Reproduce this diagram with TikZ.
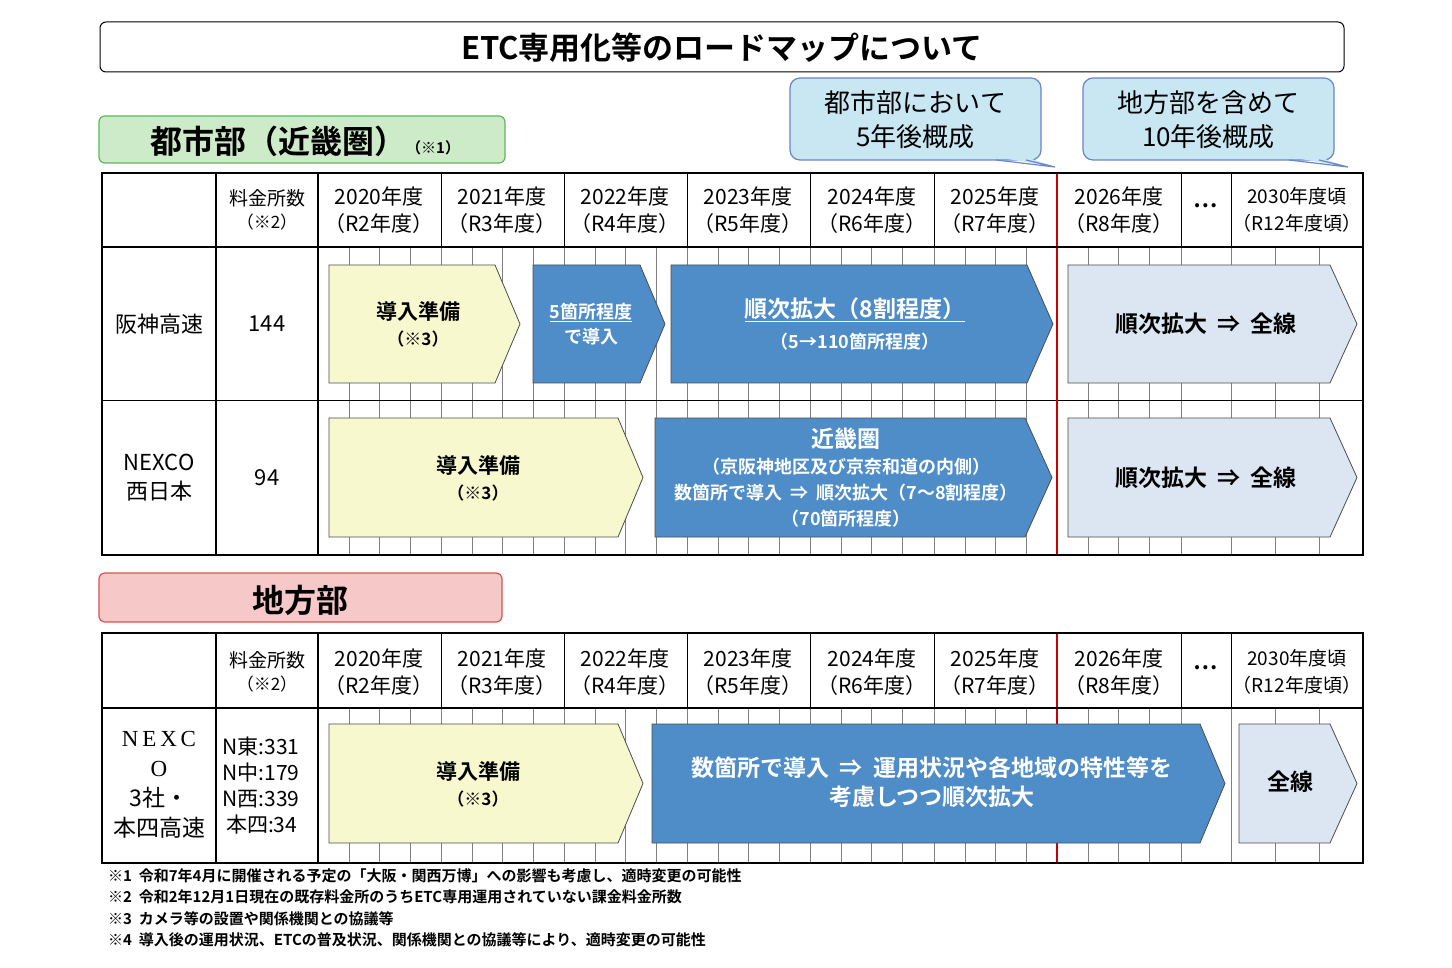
\documentclass[tikz,border=0pt]{standalone}
\usepackage{fontspec}
\setmainfont{Noto Sans CJK JP}
\newfontfamily\jpb{Noto Sans CJK JP Bold}
\usetikzlibrary{calc}
\definecolor{bluea}{HTML}{4F8DC8}
\definecolor{lighta}{HTML}{DCE6F2}
\definecolor{yel}{HTML}{F8F8CE}
\definecolor{callf}{HTML}{C9E6F3}
\definecolor{calld}{HTML}{6A86C6}
\definecolor{grnf}{HTML}{CDEBC8}
\definecolor{grnd}{HTML}{5CB85C}
\definecolor{pnkf}{HTML}{F6C8C8}
\definecolor{pnkd}{HTML}{D9534F}
\tikzset{
 thick2/.style={line width=2.5pt},
 thinl/.style={line width=0.5pt,gray},
 arr/.style={draw=black!70,line width=0.8pt},
 hdr/.style={align=center,font=\fontsize{19}{23}\selectfont,inner sep=0},
 atxt/.style={align=center,inner sep=0,font=\jpb\fontsize{21}{26}\selectfont},
}
\newcommand{\arrowshape}[6]{% x1 x2 tipbody y1 y2 style
 \path[#6] (#1,#4) -- (#3,#4) -- (#2,{(#4+#5)/2}) -- (#3,#5) -- (#1,#5) -- cycle;}
\begin{document}
\begin{tikzpicture}[x=1pt,y=-1pt]
\useasboundingbox (0,0) rectangle (1452,968);
\fill[white] (0,0) rectangle (1452,968);
% title
\draw[line width=1pt,rounded corners=6pt] (100,22) rectangle (1344,72);
\node[font=\jpb\fontsize{31}{34}\selectfont] (title) at (722,48) {ETC専用化等のロードマップについて};
% callouts
\foreach \xa/\xb/\txt in {790/1041/{都市部において\\5年後概成},1083/1334/{地方部を含めて\\10年後概成}}{
 \draw[calld,fill=callf,line width=1.2pt,rounded corners=10pt] (\xa,78) -- (\xb,78) -- (\xb,160) -- (\xa,160) -- cycle;
 \fill[callf] (\xb-45,157) -- (\xb+14,167) -- (\xb-15,157) -- cycle;
 \draw[calld,line width=1.2pt] (\xb-45,160) -- (\xb+14,167) -- (\xb-15,160);
 \node[align=center,font=\fontsize{26}{34}\selectfont] at ({(\xa+\xb)/2},120) {\txt};
}
% green label
\draw[grnd,fill=grnf,line width=1.2pt,rounded corners=6pt] (99,116) rectangle (505,163);
\node[anchor=west,inner sep=0] (lab1) at (150,141) {\jpb\fontsize{32}{34}\selectfont 都市部（近畿圏）\fontsize{15}{18}\selectfont（※1）};
% pink label
\draw[pnkd,fill=pnkf,line width=1.2pt,rounded corners=6pt] (99,573) rectangle (502,622);
\node[font=\jpb\fontsize{32}{34}\selectfont] (lab2) at (300,600) {地方部};
% quarter lines
\foreach \ya/\yb in {247/555,708/863}{
 \foreach \c in {318,441,564,687,810,934,1057}{
  \foreach \q in {1,2,3}{\draw[thinl] ({\c+\q*30.8},\ya) -- ({\c+\q*30.8},\yb);}}
 \foreach \q in {1,2}{\draw[thinl] ({1231+\q*44},\ya) -- ({1231+\q*44},\yb);}
}
% tables grid
\foreach \ya/\yh/\yb in {173/247/555,633/708/863}{
 \foreach \c in {441,564,687,810,934,1181,1231}{\draw[line width=1pt] (\c,\ya) -- (\c,\yh);}
 \foreach \c in {441,564,687,810,934,1181,1231}{\draw[line width=0.8pt,gray] (\c,\yh) -- (\c,\yb);}
}
\draw[line width=1pt] (102,401) -- (1363,401);
% red lines
\draw[red!80!black,line width=1.5pt] (1057,173) -- (1057,555);
\draw[red!80!black,line width=1.5pt] (1057,633) -- (1057,863);
% headers
\node[hdr] at (267,210) {料金所数\\{\fontsize{17}{22}\selectfont（※2）}};
\node[hdr] at (267,672) {料金所数\\{\fontsize{17}{22}\selectfont（※2）}};
\foreach \ya in {210,672}{
\foreach \c/\y/\r in {379/2020/2,502/2021/3,625/2022/4,748/2023/5,872/2024/6,995/2025/7,1119/2026/8}{
 \node[hdr,font=\fontsize{21}{27}\selectfont] at (\c,\ya) {\y 年度\\（R\r 年度）};}
\node[hdr,font=\fontsize{19}{27}\selectfont] at (1297,\ya) {2030年度頃\\（R12年度頃）};
\node[font=\jpb\fontsize{22}{22}\selectfont] at (1206,\ya-4) {…};
}
\node[font=\fontsize{22}{26}\selectfont] at (159,324) {阪神高速};
\node[font=\fontsize{22}{26}\selectfont] at (267,324) {144};
\node[align=center,font=\fontsize{22}{29}\selectfont] at (159,478) {NEXCO\\西日本};
\node[font=\fontsize{22}{26}\selectfont] at (267,478) {94};
\node[align=center,font=\fontsize{23}{30}\selectfont] at (159,785) {\fontspec{Liberation Serif}N\,E\,X\,C\\\fontspec{Liberation Serif}O\\3社・\\本四高速};
\node[align=left,anchor=west,font=\fontsize{21}{26}\selectfont] at (219,786) {N東:331\\N中:179\\N西:339\\\,本四:34};
% arrows row1
\arrowshape{329}{520}{495}{265}{383}{arr,fill=yel}
\node[atxt] at (418,324) {導入準備\\{\fontsize{17}{24}\selectfont（※3）}};
\arrowshape{533}{665}{640}{265}{383}{arr,fill=bluea}
\node[atxt,white,font=\jpb\fontsize{18}{25}\selectfont] at (591,324) {\underline{5箇所程度}\\で導入};
\arrowshape{671}{1053}{1027}{265}{383}{arr,fill=bluea}
\node[atxt,white,font=\jpb\fontsize{23}{31}\selectfont] at (855,324) {\underline{順次拡大（8割程度）}\\{\fontsize{18}{24}\selectfont（5→110箇所程度）}};
\arrowshape{1068}{1357}{1330}{265}{383}{arr,fill=lighta}
\node[atxt,font=\jpb\fontsize{23}{26}\selectfont] at (1206,324) {順次拡大\ \ ⇒\ \ 全線};
% row2
\arrowshape{329}{643}{618}{418}{537}{arr,fill=yel}
\node[atxt] at (478,478) {導入準備\\{\fontsize{17}{24}\selectfont（※3）}};
\arrowshape{655}{1052}{1025}{418}{537}{arr,fill=bluea}
\node[atxt,white,font=\jpb\fontsize{18}{26}\selectfont] at (846,478) {{\fontsize{23}{26}\selectfont 近畿圏}\\（京阪神地区及び京奈和道の内側）\\数箇所で導入\ \ ⇒\ \ 順次拡大（7〜8割程度）\\（70箇所程度）};
\arrowshape{1068}{1357}{1330}{418}{537}{arr,fill=lighta}
\node[atxt,font=\jpb\fontsize{23}{26}\selectfont] at (1206,478) {順次拡大\ \ ⇒\ \ 全線};
% row3
\arrowshape{329}{643}{618}{724}{843}{arr,fill=yel}
\node[atxt] at (478,784) {導入準備\\{\fontsize{17}{24}\selectfont（※3）}};
\arrowshape{652}{1225}{1200}{724}{843}{arr,fill=bluea}
\node[atxt,white,font=\jpb\fontsize{23}{29}\selectfont] at (932,782) {数箇所で導入\ \ ⇒\ \ 運用状況や各地域の特性等を\\考慮しつつ順次拡大};
\arrowshape{1239}{1357}{1330}{724}{843}{arr,fill=lighta}
\node[atxt,font=\jpb\fontsize{23}{26}\selectfont] at (1290,782) {全線};
% outer borders
\foreach \ya/\yh/\yb in {173/247/555,633/708/863}{
 \draw[thick2] (102,\ya) rectangle (1363,\yb);
 \draw[thick2] (102,\yh) -- (1363,\yh);
 \draw[thick2] (216,\ya) -- (216,\yb);
 \draw[thick2] (318,\ya) -- (318,\yb);
}
% footnotes
\node[anchor=north west,align=left,inner sep=0,font=\jpb\fontsize{15}{21.5}\selectfont] (fn) at (108,868) {※1\ \ 令和7年4月に開催される予定の「大阪・関西万博」への影響も考慮し、適時変更の可能性\\※2\ \ 令和2年12月1日現在の既存料金所のうちETC専用運用されていない課金料金所数\\※3\ \ カメラ等の設置や関係機関との協議等\\※4\ \ 導入後の運用状況、ETCの普及状況、関係機関との協議等により、適時変更の可能性};
\end{tikzpicture}
\end{document}
